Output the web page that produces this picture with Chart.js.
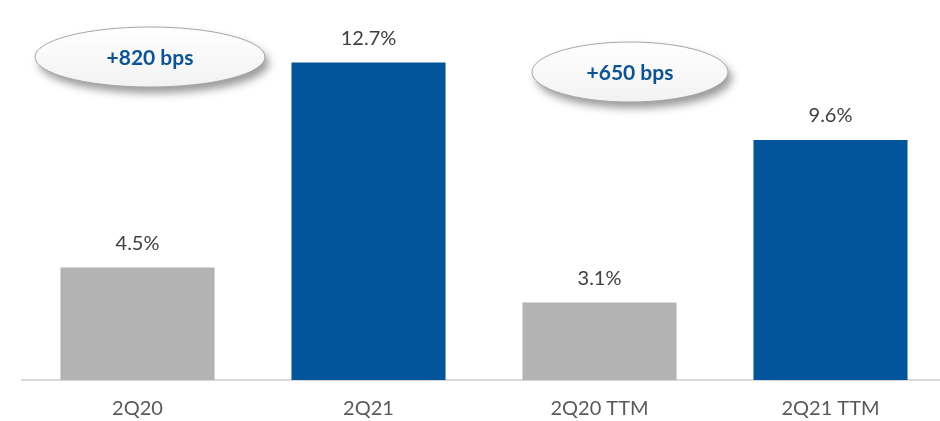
<!DOCTYPE html>
<html>
<head>
<meta charset="utf-8">
<script src="https://cdn.jsdelivr.net/npm/chart.js@4.4.0/dist/chart.umd.min.js"></script>
<style>
  html, body { margin: 0; padding: 0; background: #fff; overflow: hidden; }
  #wrap { width: 946px; height: 421px; }
</style>
</head>
<body>
<div id="wrap"><canvas id="c"></canvas></div>
<script>
const categories = ['2Q20', '2Q21', '2Q20 TTM', '2Q21 TTM'];
const marginValues = [4.5, 12.7, 3.1, 9.6];
const barColors = ['#b3b3b3', '#02559a', '#b3b3b3', '#02559a'];
const callouts = [
  { text: '+820 bps', cx: 150, cy: 57, rx: 115, ry: 30 },
  { text: '+650 bps', cx: 630, cy: 72, rx: 98, ry: 30 }
];

const FONT = 'Lato, "Open Sans", sans-serif';

// value labels above each bar
const valueLabels = {
  id: 'valueLabels',
  afterDatasetsDraw(chart) {
    const ctx = chart.ctx;
    const meta = chart.getDatasetMeta(0);
    ctx.save();
    ctx.font = '20px ' + FONT;
    ctx.fillStyle = '#404040';
    ctx.textAlign = 'center';
    ctx.textBaseline = 'middle';
    meta.data.forEach((bar, i) => {
      ctx.fillText(marginValues[i].toFixed(1) + '%', bar.x, bar.y - 24);
    });
    ctx.restore();
  }
};

// shaded ellipse callouts with the bps change
const calloutBubbles = {
  id: 'calloutBubbles',
  afterDraw(chart) {
    const ctx = chart.ctx;
    callouts.forEach(c => {
      ctx.save();
      ctx.shadowColor = 'rgba(0,0,0,0.4)';
      ctx.shadowBlur = 9;
      ctx.shadowOffsetX = 4;
      ctx.shadowOffsetY = 6;
      ctx.beginPath();
      ctx.ellipse(c.cx, c.cy, c.rx, c.ry, 0, 0, Math.PI * 2);
      const g = ctx.createLinearGradient(0, c.cy - c.ry, 0, c.cy + c.ry);
      g.addColorStop(0, '#ffffff');
      g.addColorStop(1, '#f2f2f2');
      ctx.fillStyle = g;
      ctx.fill();
      ctx.restore();
      ctx.save();
      ctx.beginPath();
      ctx.ellipse(c.cx, c.cy, c.rx, c.ry, 0, 0, Math.PI * 2);
      ctx.strokeStyle = '#a6a6a6';
      ctx.lineWidth = 1;
      ctx.stroke();
      ctx.font = 'bold 21px ' + FONT;
      ctx.fillStyle = '#0b5394';
      ctx.textAlign = 'center';
      ctx.textBaseline = 'middle';
      ctx.fillText(c.text, c.cx, c.cy + 1);
      ctx.restore();
    });
  }
};

new Chart(document.getElementById('c'), {
  type: 'bar',
  data: {
    labels: categories,
    datasets: [{
      data: marginValues,
      backgroundColor: barColors,
      barPercentage: 0.667,
      categoryPercentage: 1.0
    }]
  },
  options: {
    responsive: true,
    maintainAspectRatio: false,
    animation: false,
    layout: { padding: { left: 22, right: 0, top: 0, bottom: -17 } },
    plugins: {
      legend: { display: false },
      tooltip: { enabled: false }
    },
    scales: {
      y: {
        display: false,
        min: 0,
        max: 15.2
      },
      x: {
        grid: { display: false, drawTicks: false },
        border: { color: '#d9d9d9', width: 2 },
        ticks: {
          color: '#595959',
          font: { family: FONT, size: 20 },
          padding: 17
        }
      }
    }
  },
  plugins: [valueLabels, calloutBubbles]
});
</script>
</body>
</html>
